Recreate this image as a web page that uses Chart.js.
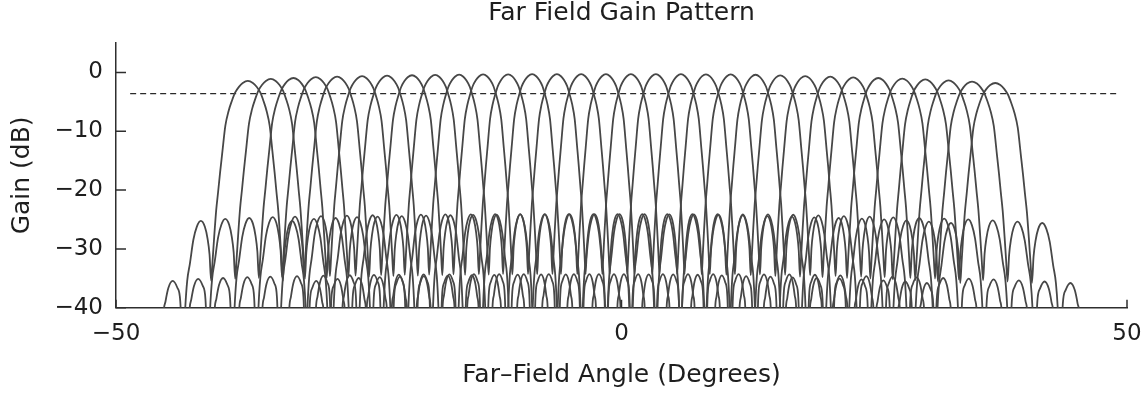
<!DOCTYPE html>
<html>
<head>
<meta charset="utf-8">
<script src="https://cdn.jsdelivr.net/npm/chart.js@4.4.1/dist/chart.umd.min.js"></script>
<style>
  html, body { margin: 0; padding: 0; background: #ffffff; }
  #wrap { width: 1148px; height: 393px; }
</style>
</head>
<body>
<div id="wrap"><canvas id="chart" width="1148" height="393"></canvas></div>
<script>
// Steering angle of each beam (degrees)
const beamCenters = [
  -36.96, -34.69, -32.45, -30.24, -28.13, -25.66, -23.19, -20.72,
  -18.43, -16.06, -13.69, -11.21, -8.84, -6.39, -3.99, -1.54,
  0.93, 3.40, 5.88, 8.35, 10.80, 13.26, 15.70, 18.17,
  20.65, 22.92, 25.40, 27.77, 30.05, 32.35, 34.67, 36.97
];
// Peak gain of each beam (dB)
const beamPeaks = [
  -1.45, -1.10, -0.95, -0.80, -0.72, -0.63, -0.55, -0.48,
  -0.42, -0.38, -0.35, -0.32, -0.30, -0.30, -0.30, -0.30,
  -0.30, -0.30, -0.30, -0.32, -0.35, -0.40, -0.50, -0.63,
  -0.73, -0.85, -0.95, -1.05, -1.20, -1.35, -1.55, -1.80
];
// One-sided lobe profile of a broadside beam: offset from the beam axis (degrees)
const lobeOffsets = [
  0, 0.4, 0.7, 1.0, 1.25, 1.5, 1.75, 2.0, 2.15, 2.3, 2.45, 2.6, 2.72, 2.83,
  2.95, 3.1, 3.3, 3.6, 3.9, 4.15, 4.4, 4.6, 4.75, 4.85, 4.93,
  5.0, 5.1, 5.3, 5.64, 5.95, 6.15, 6.3, 6.4, 6.45
];
// ... and gain relative to the beam peak at each offset (dB)
const lobeGains = [
  0, -0.35, -1.0, -2.0, -3.4, -5.1, -7.6, -12.5, -15.5, -18.8, -22, -26.5, -30.5, -34,
  -29.5, -26.8, -24.8, -23.8, -24.8, -27, -31, -34, -39, -45, -60,
  -45, -37.5, -35.2, -34, -35.2, -37.5, -40, -48, -60
];
// Crossover reference level
const refLineX = [-48.6, 49.1];
const refLineY = [-3.6, -3.6];
// Axis ticks
const xTicks = [-50, 0, 50];
const yTicks = [-40, -30, -20, -10, 0];

const FONT = "'DejaVu Sans', sans-serif";
const TEXT = '#1e1e1e';
const AXIS = '#2e2e2e';
const LINE = '#474747';
const RAD = Math.PI / 180;

// Lobe profile is defined in sine space, so each beam is re-projected around its own axis
function beamPoints(center, peak) {
  const u0 = Math.sin(center * RAD);
  const pts = [];
  for (let i = lobeOffsets.length - 1; i >= 0; i--) {
    const u = u0 - Math.sin(lobeOffsets[i] * RAD);
    pts.push({ x: Math.asin(u) / RAD, y: peak + lobeGains[i] });
  }
  for (let i = 1; i < lobeOffsets.length; i++) {
    const u = u0 + Math.sin(lobeOffsets[i] * RAD);
    pts.push({ x: Math.asin(u) / RAD, y: peak + lobeGains[i] });
  }
  return pts;
}

const beamSets = beamCenters.map((c, k) => ({
  label: 'Beam ' + (k + 1),
  data: beamPoints(c, beamPeaks[k]),
  borderColor: LINE,
  borderWidth: 1.8,
  pointRadius: 0,
  fill: false,
  cubicInterpolationMode: 'monotone'
}));

const refSet = {
  label: 'Crossover',
  data: refLineX.map((x, i) => ({ x, y: refLineY[i] })),
  borderColor: '#2a2a2a',
  borderWidth: 1.4,
  borderDash: [6, 4],
  pointRadius: 0,
  fill: false
};

const fmt = v => (v < 0 ? '\u2212' + Math.abs(v) : String(v));

// Inward-pointing tick marks on both axes
const innerTicks = {
  id: 'innerTicks',
  afterDraw(chart) {
    const { ctx, chartArea, scales } = chart;
    ctx.save();
    ctx.strokeStyle = AXIS;
    ctx.lineWidth = 1.5;
    ctx.beginPath();
    yTicks.forEach(v => {
      const py = scales.y.getPixelForValue(v);
      ctx.moveTo(chartArea.left, py);
      ctx.lineTo(chartArea.left + 10, py);
    });
    xTicks.forEach(v => {
      const px = scales.x.getPixelForValue(v);
      ctx.moveTo(px, chartArea.bottom);
      ctx.lineTo(px, chartArea.bottom - 8);
    });
    ctx.stroke();
    ctx.restore();
  }
};

new Chart(document.getElementById('chart'), {
  type: 'line',
  data: { datasets: [...beamSets, refSet] },
  options: {
    responsive: false,
    animation: false,
    devicePixelRatio: 1,
    layout: { padding: { left: 0, right: 21, top: 0, bottom: 0 } },
    plugins: {
      legend: { display: false },
      tooltip: { enabled: false },
      title: {
        display: true,
        text: 'Far Field Gain Pattern',
        fullSize: false,
        color: TEXT,
        font: { family: FONT, size: 25, weight: 'normal', lineHeight: 1.0 },
        padding: { top: 1, bottom: 17 }
      }
    },
    scales: {
      x: {
        type: 'linear',
        min: -50,
        max: 50,
        afterBuildTicks: s => { s.ticks = xTicks.map(v => ({ value: v })); },
        afterFit: s => { s.height = 85.3; s.paddingLeft = 0; s.paddingRight = 0; },
        grid: { display: false, drawTicks: false, tickLength: 0 },
        border: { display: true, color: AXIS, width: 1.5 },
        ticks: {
          padding: 13,
          color: TEXT,
          maxRotation: 0,
          font: { family: FONT, size: 23 },
          callback: v => fmt(v)
        },
        title: {
          display: true,
          text: 'Far\u2013Field Angle (Degrees)',
          color: TEXT,
          font: { family: FONT, size: 25, lineHeight: 1.2 },
          padding: { top: 3, bottom: 3 }
        }
      },
      y: {
        type: 'linear',
        min: -40,
        max: 5,
        afterBuildTicks: s => { s.ticks = yTicks.map(v => ({ value: v })); },
        afterFit: s => { s.width = 116; s.paddingTop = 0; s.paddingBottom = 0; },
        grid: { display: false, drawTicks: false, tickLength: 0 },
        border: { display: true, color: AXIS, width: 1.5 },
        ticks: {
          padding: 13,
          color: TEXT,
          font: { family: FONT, size: 23 },
          callback: v => fmt(v)
        },
        title: {
          display: true,
          text: 'Gain (dB)',
          color: TEXT,
          font: { family: FONT, size: 25, lineHeight: 1.2 },
          padding: { top: 7, bottom: 7 }
        }
      }
    }
  },
  plugins: [innerTicks]
});
</script>
</body>
</html>
